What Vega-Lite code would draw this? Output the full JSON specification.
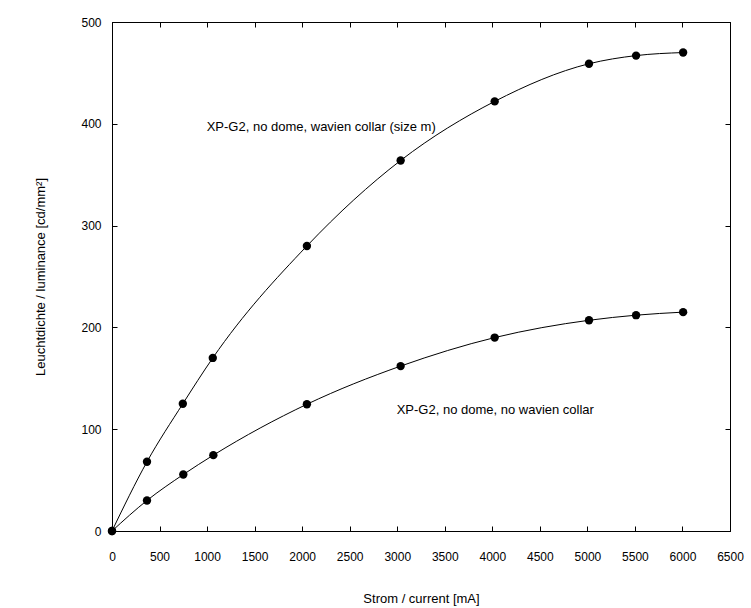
{
  "$schema": "https://vega.github.io/schema/vega-lite/v6.json",
  "width": 618,
  "height": 509,
  "autosize": {"type": "none"},
  "padding": {"left": 112, "top": 22, "right": 21, "bottom": 77},
  "background": "white",
  "config": {
    "view": {"stroke": "black", "strokeWidth": 1},
    "font": "Liberation Sans",
    "axis": {
      "labelFont": "Liberation Sans",
      "labelFontSize": 12,
      "labelColor": "black",
      "titleFont": "Liberation Sans",
      "titleFontSize": 13,
      "titleFontWeight": "normal",
      "titleColor": "black",
      "grid": false,
      "domainColor": "black",
      "tickColor": "black",
      "tickSize": -5,
      "labelFlush": false,
      "labelOverlap": false,
      "format": "d"
    }
  },
  "datasets": {
    "curves": [
      {"series": "collar", "current": 0, "lum": 0},
      {"series": "collar", "current": 368, "lum": 68},
      {"series": "collar", "current": 745, "lum": 125},
      {"series": "collar", "current": 1060, "lum": 170},
      {"series": "collar", "current": 2050, "lum": 280},
      {"series": "collar", "current": 3036, "lum": 364},
      {"series": "collar", "current": 4025, "lum": 422},
      {"series": "collar", "current": 5017, "lum": 459},
      {"series": "collar", "current": 5512, "lum": 467},
      {"series": "collar", "current": 6007, "lum": 470},
      {"series": "nocollar", "current": 0, "lum": 0},
      {"series": "nocollar", "current": 368, "lum": 30},
      {"series": "nocollar", "current": 750, "lum": 55.5},
      {"series": "nocollar", "current": 1066, "lum": 74.5},
      {"series": "nocollar", "current": 2050, "lum": 124.5},
      {"series": "nocollar", "current": 3036, "lum": 162},
      {"series": "nocollar", "current": 4025, "lum": 190},
      {"series": "nocollar", "current": 5017, "lum": 207},
      {"series": "nocollar", "current": 5512, "lum": 212},
      {"series": "nocollar", "current": 6007, "lum": 215}
    ],
    "labels": [
      {"current": 996, "lum": 396.5, "text": "XP-G2, no dome, wavien collar (size m)"},
      {"current": 2994, "lum": 118.5, "text": "XP-G2, no dome, no wavien collar"}
    ]
  },
  "resolve": {"axis": {"x": "independent", "y": "independent"}},
  "layer": [
    {
      "data": {"name": "curves"},
      "mark": {"type": "line", "interpolate": "monotone", "color": "black", "strokeWidth": 1},
      "encoding": {
        "x": {
          "field": "current", "type": "quantitative",
          "scale": {"domain": [0, 6500], "nice": false},
          "axis": {"orient": "bottom", "values": [0,500,1000,1500,2000,2500,3000,3500,4000,4500,5000,5500,6000,6500], "title": "Strom / current [mA]", "labelPadding": 25, "titlePadding": 30}
        },
        "y": {
          "field": "lum", "type": "quantitative",
          "scale": {"domain": [0, 500], "nice": false},
          "axis": {"orient": "left", "values": [0,100,200,300,400,500], "title": "Leuchtdichte / luminance [cd/mm²]", "labelPadding": 16, "titlePadding": 33}
        },
        "detail": {"field": "series"}
      }
    },
    {
      "data": {"name": "curves"},
      "mark": {"type": "point", "filled": true, "color": "black", "opacity": 1, "size": 70},
      "encoding": {
        "x": {
          "field": "current", "type": "quantitative",
          "scale": {"domain": [0, 6500], "nice": false},
          "axis": {"orient": "top", "values": [0,500,1000,1500,2000,2500,3000,3500,4000,4500,5000,5500,6000,6500], "labels": false, "title": null}
        },
        "y": {
          "field": "lum", "type": "quantitative",
          "scale": {"domain": [0, 500], "nice": false},
          "axis": {"orient": "right", "values": [0,100,200,300,400,500], "labels": false, "title": null}
        }
      }
    },
    {
      "data": {"name": "labels"},
      "mark": {"type": "text", "align": "left", "baseline": "middle", "font": "Liberation Sans", "fontSize": 13, "color": "black"},
      "encoding": {
        "x": {"field": "current", "type": "quantitative", "axis": null},
        "y": {"field": "lum", "type": "quantitative", "axis": null},
        "text": {"field": "text"}
      }
    }
  ]
}
